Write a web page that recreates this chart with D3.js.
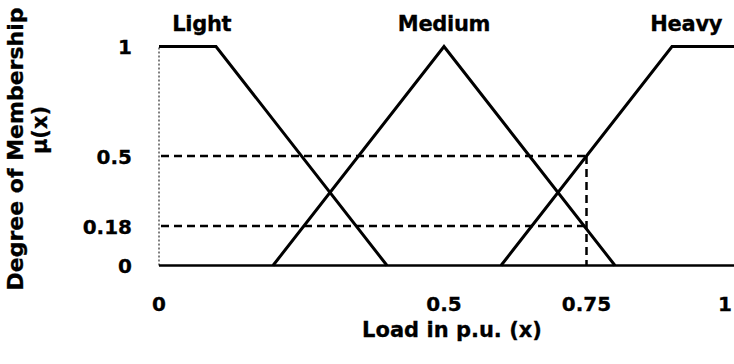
<!DOCTYPE html>
<html>
<head>
<meta charset="utf-8">
<script src="https://cdn.jsdelivr.net/npm/d3@7"></script>
<style>
  body { margin: 0; background: #fff; }
  text { font-family: "DejaVu Sans", sans-serif; font-weight: bold; fill: #000; stroke: #000; stroke-width: 0.3px; }
</style>
</head>
<body>
<svg width="734" height="364"></svg>
<script>
// membership functions (x in p.u., mu)
const setNames = ['Light', 'Medium', 'Heavy'];
const lightX = [0, 0.1, 0.4];
const lightMu = [1, 1, 0];
const mediumX = [0.2, 0.5, 0.8];
const mediumMu = [0, 1, 0];
const heavyX = [0.6, 0.9, 1.01];
const heavyMu = [0, 1, 1];
const labelX = [0.075, 0.5, 0.925];

const xTicks = [0, 0.5, 0.75, 1];
const yTicks = [0, 0.18, 0.5, 1];

// example input
const inputLoad = 0.75;
const inputMu = [0.5, 0.18];

const svg = d3.select('svg');

const xScale = d3.scaleLinear()
  .domain([0, 1])
  .range([159, 729]);

const yScale = d3.scaleLinear()
  .domain([0, 1])
  .range([265.5, 46.5]);

// y axis (dotted)
svg.append('line')
  .attr('x1', xScale(0)).attr('x2', xScale(0))
  .attr('y1', yScale(0)).attr('y2', yScale(1))
  .attr('stroke', '#000')
  .attr('stroke-width', 1)
  .attr('stroke-dasharray', '2,2');

// x axis
svg.append('line')
  .attr('x1', xScale(0)).attr('x2', 734)
  .attr('y1', yScale(0)).attr('y2', yScale(0))
  .attr('stroke', '#000')
  .attr('stroke-width', 2.5);

// tick labels
svg.selectAll('.xtick')
  .data(xTicks)
  .enter()
  .append('text')
  .attr('class', 'xtick')
  .attr('x', (d) => Math.min(xScale(d), 725))
  .attr('y', 311)
  .attr('text-anchor', 'middle')
  .attr('font-size', '20px')
  .text((d) => d);

svg.selectAll('.ytick')
  .data(yTicks)
  .enter()
  .append('text')
  .attr('class', 'ytick')
  .attr('x', 132)
  .attr('y', (d) => yScale(d) + 7.5)
  .attr('text-anchor', 'end')
  .attr('font-size', '20px')
  .text((d) => d);

// dashed guides
const guides = svg.append('g')
  .attr('stroke', '#000')
  .attr('stroke-width', 2.5)
  .attr('stroke-dasharray', '8,5')
  .attr('fill', 'none');

inputMu.forEach((m) => {
  guides.append('line')
    .attr('x1', xScale(0) + 2).attr('x2', xScale(inputLoad))
    .attr('y1', yScale(m)).attr('y2', yScale(m));
});

guides.append('line')
  .attr('x1', xScale(inputLoad)).attr('x2', xScale(inputLoad))
  .attr('y1', yScale(d3.max(inputMu))).attr('y2', yScale(0));

// membership lines
const line = d3.line()
  .x((d) => xScale(d[0]))
  .y((d) => yScale(d[1]));

const sets = [
  d3.zip(lightX, lightMu),
  d3.zip(mediumX, mediumMu),
  d3.zip(heavyX, heavyMu)
];

svg.selectAll('.mf')
  .data(sets)
  .enter()
  .append('path')
  .attr('class', 'mf')
  .attr('d', line)
  .attr('fill', 'none')
  .attr('stroke', '#000')
  .attr('stroke-width', 3);

svg.selectAll('.setlabel')
  .data(setNames)
  .enter()
  .append('text')
  .attr('class', 'setlabel')
  .attr('x', (d, i) => xScale(labelX[i]))
  .attr('y', 31)
  .attr('text-anchor', 'middle')
  .attr('font-size', '21px')
  .attr('letter-spacing', '-0.3px')
  .text((d) => d);

// axis titles
svg.append('text')
  .attr('x', 452)
  .attr('y', 337)
  .attr('text-anchor', 'middle')
  .attr('font-size', '21px')
  .text('Load in p.u. (x)');

svg.append('text')
  .attr('transform', 'translate(23, 149) rotate(-90)')
  .attr('text-anchor', 'middle')
  .attr('font-size', '22px')
  .text('Degree of Membership');

svg.append('text')
  .attr('transform', 'translate(47, 130) rotate(-90)')
  .attr('text-anchor', 'middle')
  .attr('font-size', '21px')
  .text('μ(x)');
</script>
</body>
</html>
